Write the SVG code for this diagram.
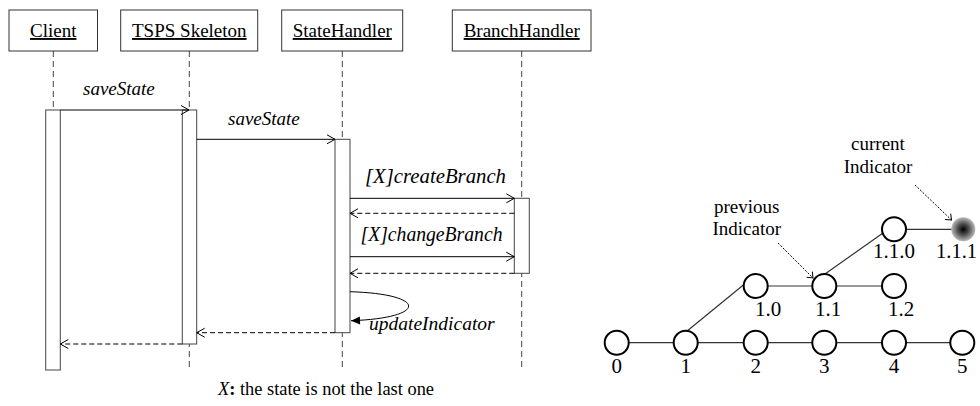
<svg xmlns="http://www.w3.org/2000/svg" width="980" height="406" viewBox="0 0 980 406">
<style>
text{font-family:"Liberation Serif","Times New Roman",Times,"DejaVu Serif",serif}
.box{fill:#fff;stroke:#333;stroke-width:1}
.life{stroke:#444;stroke-width:1;stroke-dasharray:6,4;fill:none}
.act{fill:#fff;stroke:#444;stroke-width:1}
.msg{stroke:#000;stroke-width:1;fill:none}
.ret{stroke:#000;stroke-width:1;fill:none;stroke-dasharray:5,3}
.hdr{font-size:19px;text-decoration:underline;text-anchor:middle;fill:#000}
.lbl{font-size:19px;font-style:italic;fill:#000}
.txt{font-size:19px;fill:#000;text-anchor:middle}
.num{font-size:21px;fill:#000;text-anchor:middle}
.nd{fill:#fff;stroke:#000;stroke-width:2}
.edge{stroke:#333;stroke-width:1.2;fill:none}
.dot{stroke:#000;stroke-width:1;stroke-dasharray:2,1.5;fill:none}
</style>
<defs>
<marker id="open" viewBox="-10 -6 12 12" refX="0" refY="0" markerWidth="12" markerHeight="12" markerUnits="userSpaceOnUse" orient="auto">
<path d="M-8,-4.5 L0,0 L-8,4.5" fill="none" stroke="#000" stroke-width="1"/>
</marker>
<marker id="small" viewBox="-8 -5 10 10" refX="0" refY="0" markerWidth="10" markerHeight="10" markerUnits="userSpaceOnUse" orient="auto">
<path d="M-5,-4 L0,0 L-5,4" fill="none" stroke="#000" stroke-width="1"/>
</marker>
<marker id="fill" viewBox="-10 -6 12 12" refX="0" refY="0" markerWidth="12" markerHeight="12" markerUnits="userSpaceOnUse" orient="auto">
<path d="M-9,-4 L0,0 L-9,4 Z" fill="#000"/>
</marker>
<radialGradient id="grad" cx="0.5" cy="0.5" r="0.5">
<stop offset="0" stop-color="#000"/>
<stop offset="0.5" stop-color="#555"/>
<stop offset="1" stop-color="#bbb"/>
</radialGradient>
</defs>

<g id="lifelines">
<line class="life" x1="53.3" y1="51" x2="53.3" y2="110"/>
<line class="life" x1="189.3" y1="51" x2="189.3" y2="370"/>
<line class="life" x1="342.3" y1="51" x2="342.3" y2="370"/>
<line class="life" x1="521.7" y1="51" x2="521.7" y2="370"/>
</g>

<g id="client">
<rect class="box" x="9" y="10" width="88.5" height="41"/>
<text class="hdr" x="53.3" y="37">Client</text>
<rect class="act" x="45.7" y="110" width="14.6" height="260"/>
</g>
<g id="tsps">
<rect class="box" x="120.7" y="10" width="137" height="41"/>
<text class="hdr" x="189.3" y="37">TSPS Skeleton</text>
<rect class="act" x="182.3" y="110" width="14.4" height="234"/>
</g>
<g id="statehandler">
<rect class="box" x="281.7" y="10" width="121" height="41"/>
<text class="hdr" x="342.3" y="37">StateHandler</text>
<rect class="act" x="335" y="139.3" width="15" height="193.4"/>
</g>
<g id="branchhandler">
<rect class="box" x="452.3" y="10" width="138.7" height="41"/>
<text class="hdr" x="521.7" y="37">BranchHandler</text>
<rect class="act" x="514.3" y="198.3" width="15" height="75"/>
</g>

<g id="connectors">
<line class="msg" x1="60.3" y1="110" x2="189" y2="110" marker-end="url(#open)"/>
<line class="msg" x1="196.7" y1="139.3" x2="335" y2="139.3" marker-end="url(#open)"/>
<line class="msg" x1="350" y1="198.3" x2="514.3" y2="198.3" marker-end="url(#open)"/>
<line class="ret" x1="514.3" y1="213.3" x2="350" y2="213.3" marker-end="url(#open)"/>
<line class="msg" x1="350" y1="256.7" x2="514.3" y2="256.7" marker-end="url(#open)"/>
<line class="ret" x1="514.3" y1="273.3" x2="350" y2="273.3" marker-end="url(#open)"/>
<path class="msg" d="M350,291.7 C428,294 428,318 351,320.7" marker-end="url(#fill)"/>
<line class="ret" x1="335" y1="332.7" x2="196.7" y2="332.7" marker-end="url(#open)"/>
<line class="ret" x1="182.3" y1="344" x2="60.3" y2="344" marker-end="url(#open)"/>
</g>

<g id="labels">
<text class="lbl" x="83" y="95">saveState</text>
<text class="lbl" x="228" y="125">saveState</text>
<text class="lbl" x="365" y="183" style="font-size:20.5px" textLength="141" lengthAdjust="spacingAndGlyphs">[X]createBranch</text>
<text class="lbl" x="360.5" y="241" style="font-size:20px" textLength="142" lengthAdjust="spacingAndGlyphs">[X]changeBranch</text>
<text class="lbl" x="369" y="330" style="font-size:19.5px">updateIndicator</text>
<text x="218" y="395" style="font-size:18.4px;fill:#000"><tspan font-style="italic">X</tspan><tspan font-weight="bold">:</tspan> the state is not the last one</text>
</g>

<g id="tree-edges">
<line class="edge" x1="616.7" y1="342.7" x2="962.3" y2="342.7"/>
<line class="edge" x1="755.7" y1="286" x2="894" y2="286"/>
<line class="edge" x1="894" y1="229.3" x2="963" y2="229.3"/>
<line class="edge" x1="686.5" y1="331.5" x2="747" y2="282"/>
<line class="edge" x1="825" y1="274" x2="883" y2="233"/>
<path class="dot" d="M778,243 L813,278" marker-end="url(#small)"/>
<path class="dot" d="M915,185 L951.5,220" marker-end="url(#small)"/>
</g>

<g id="n0"><circle class="nd" cx="616.7" cy="342.7" r="12"/><text class="num" x="616.7" y="372.7">0</text></g>
<g id="n1"><circle class="nd" cx="685.7" cy="342.7" r="12"/><text class="num" x="685.7" y="372.7">1</text></g>
<g id="n2"><circle class="nd" cx="755.7" cy="342.7" r="12"/><text class="num" x="755.7" y="372.7">2</text></g>
<g id="n3"><circle class="nd" cx="824.3" cy="342.7" r="12"/><text class="num" x="824.3" y="372.7">3</text></g>
<g id="n4"><circle class="nd" cx="894" cy="342.7" r="12"/><text class="num" x="894" y="372.7">4</text></g>
<g id="n5"><circle class="nd" cx="962.3" cy="342.7" r="12"/><text class="num" x="962.3" y="372.7">5</text></g>
<g id="n10"><circle class="nd" cx="755.7" cy="286" r="12"/><text class="num" x="768" y="316">1.0</text></g>
<g id="n11"><circle class="nd" cx="824.3" cy="286" r="12"/><text class="num" x="828" y="316">1.1</text></g>
<g id="n12"><circle class="nd" cx="894" cy="286" r="12"/><text class="num" x="901" y="316">1.2</text></g>
<g id="n110"><circle class="nd" cx="894" cy="229.3" r="12"/><text class="num" x="894" y="258">1.1.0</text></g>
<g id="n111"><circle cx="963.3" cy="229.3" r="12" fill="url(#grad)"/><text class="num" x="956.5" y="258" style="font-size:20.5px">1.1.1</text></g>

<g id="annotations">
<text class="txt" x="746.7" y="213">previous</text>
<text class="txt" x="746.7" y="235">Indicator</text>
<text class="txt" x="878" y="150">current</text>
<text class="txt" x="878" y="173">Indicator</text>
</g>
</svg>
